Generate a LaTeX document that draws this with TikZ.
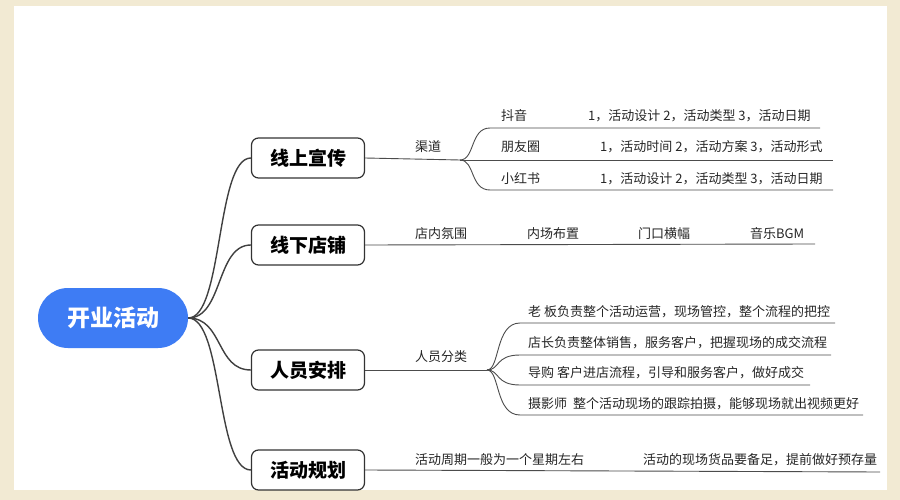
\documentclass[tikz,border=0pt]{standalone}
\usepackage{fontspec}
\setmainfont{Noto Sans CJK SC}
\begin{document}
\begin{tikzpicture}[x=1pt,y=-1pt,
  lab/.style={font=\fontsize{13}{15}\selectfont,text=black!85,anchor=base west,inner sep=0},
  l1/.style={draw=black!80,line width=1.2pt,rounded corners=7pt,fill=white,minimum width=113pt,minimum height=40pt,font=\fontsize{19}{22}\bfseries\selectfont},
  ln/.style={draw=black!70,line width=0.9pt},
  br/.style={draw=black!75,line width=1.4pt}]
\definecolor{bg}{HTML}{F2EAD3}\definecolor{rootc}{HTML}{3E7CF4}
\useasboundingbox (0,0) rectangle (900,500);
\fill[bg] (0,0) rectangle (900,500);
\fill[white] (14,6) rectangle (887,490);
\node[fill=rootc,rounded corners=30pt,minimum width=150pt,minimum height=60pt,text=white,font=\fontsize{23}{26}\bfseries\selectfont] (root) at (113,318) {开业活动};
\node[l1] (a) at (308,158) {线上宣传};
\node[l1] (b) at (308,245) {线下店铺};
\node[l1] (c) at (308,370) {人员安排};
\node[l1] (d) at (308,470) {活动规划};
\foreach \n in {a,b,c,d}{\draw[br] (root.east) .. controls +(35,0) and +(-35,0) .. (\n.west);}
% 渠道
\coordinate (q) at (460,160);
\draw[ln] (a.east) -- (q);
\node[lab] at (415,152) {渠道};
\draw[ln] (q) .. controls (475,160) and (470,128) .. (490,128) -- (820,128);
\draw[ln] (q) -- (833,160);
\draw[ln] (q) .. controls (475,160) and (470,190) .. (490,190) -- (833,190);
\node[lab] at (501,121) {抖音};
\node[lab] at (588,121) {1，活动设计 2，活动类型 3，活动日期};
\node[lab] at (501,152) {朋友圈};
\node[lab] at (600,152) {1，活动时间 2，活动方案 3，活动形式};
\node[lab] at (501,183) {小红书};
\node[lab] at (600,183) {1，活动设计 2，活动类型 3，活动日期};
% 线下
\draw[ln] (b.east) -- (815,244);
\node[lab] at (415,238) {店内氛围};
\node[lab] at (527,238) {内场布置};
\node[lab] at (638,238) {门口横幅};
\node[lab] at (750,238) {音乐BGM};
% 人员
\coordinate (p) at (487,370);
\draw[ln] (c.east) -- (p);
\node[lab] at (415,361) {人员分类};
\draw[ln] (p) .. controls (500,370) and (495,323) .. (520,323) -- (835,323);
\draw[ln] (p) .. controls (500,370) and (495,355) .. (520,355) -- (831,355);
\draw[ln] (p) .. controls (500,370) and (495,385) .. (520,385) -- (810,385);
\draw[ln] (p) .. controls (500,370) and (495,415) .. (520,415) -- (863,415);
\node[lab] at (528,316) {老 板负责整个活动运营，现场管控，整个流程的把控};
\node[lab] at (528,347) {店长负责整体销售，服务客户，把握现场的成交流程};
\node[lab] at (528,377) {导购 客户进店流程，引导和服务客户，做好成交};
\node[lab] at (528,408) {摄影师\ \ 整个活动现场的跟踪拍摄，能够现场就出视频更好};
% 规划
\draw[ln] (d.east) -- (880,472);
\node[lab] at (415,464) {活动周期一般为一个星期左右};
\node[lab] at (643,464) {活动的现场货品要备足，提前做好预存量};
\end{tikzpicture}
\end{document}
